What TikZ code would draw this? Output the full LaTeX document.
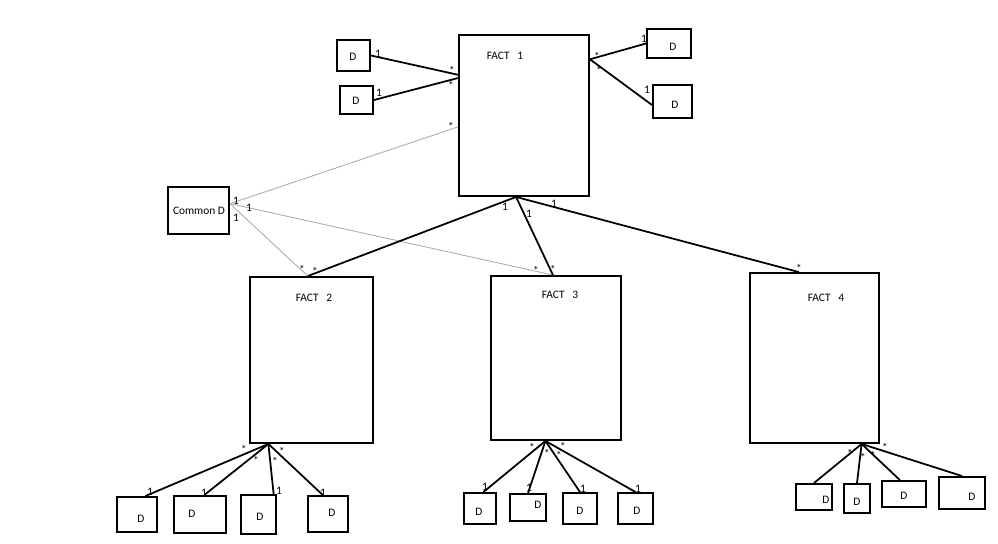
\documentclass[tikz,border=0pt]{standalone}
\usepackage{fontspec}
\setmainfont{Carlito}
\usetikzlibrary{calc}

\begin{document}
\begin{tikzpicture}[x=0.02cm, y=-0.02cm,
  box/.style={rectangle,draw,line width=1.1pt,inner sep=0pt},
  lbl/.style={font=\fontsize{6.5}{7}\selectfont,inner sep=0pt},
  mult/.style={font=\fontsize{6.5}{7}\selectfont,inner sep=0pt},
  link/.style={line width=1pt},
  glink/.style={draw=gray!65,line width=0.5pt}]

\useasboundingbox (0,0) rectangle (998,544);

% facts
\node[box,minimum width=2.6cm,minimum height=3.22cm] (f1) at (524,115.5) {};
\node[box,minimum width=2.46cm,minimum height=3.32cm] (f2) at (311.5,360) {};
\node[box,minimum width=2.6cm,minimum height=3.28cm] (f3) at (556,358) {};
\node[box,minimum width=2.58cm,minimum height=3.4cm] (f4) at (814.5,358) {};
\node[lbl] (f1t) at (505,56) {FACT\ \ \ 1};
\node[lbl] (f2t) at (314,298) {FACT\ \ \ 2};
\node[lbl] (f3t) at (560,295) {FACT\ \ \ 3};
\node[lbl] (f4t) at (826,298) {FACT\ \ \ 4};

% dimensions of FACT 1
\node[box,minimum width=0.66cm,minimum height=0.62cm] (dA) at (353.5,55.5) {};
\node[box,minimum width=0.66cm,minimum height=0.56cm] (dB) at (356.5,100) {};
\node[box,minimum width=0.88cm,minimum height=0.58cm] (dC) at (669,43.5) {};
\node[box,minimum width=0.78cm,minimum height=0.66cm] (dD) at (672.5,101.5) {};
\node[lbl] (dAt) at (353,57) {D};
\node[lbl] (dBt) at (356,101) {D};
\node[lbl] (dCt) at (673,47) {D};
\node[lbl] (dDt) at (675,105) {D};

% shared dimension
\node[box,minimum width=1.22cm,minimum height=0.94cm] (com) at (198.5,210.5) {};
\node[lbl] (comt) at (199,211) {Common D};

% dimensions of FACT 2
\node[box,minimum width=0.8cm,minimum height=0.7cm] (a1) at (137,514.5) {};
\node[box,minimum width=1.04cm,minimum height=0.74cm] (a2) at (200,514.5) {};
\node[box,minimum width=0.7cm,minimum height=0.78cm] (a3) at (258.5,514.5) {};
\node[box,minimum width=0.8cm,minimum height=0.72cm] (a4) at (328,514) {};
\node[lbl] (a1t) at (141,519) {D};
\node[lbl] (a2t) at (192,514) {D};
\node[lbl] (a3t) at (260,517) {D};
\node[lbl] (a4t) at (332,513) {D};

% dimensions of FACT 3
\node[box,minimum width=0.64cm,minimum height=0.62cm] (b1) at (480,508.5) {};
\node[box,minimum width=0.72cm,minimum height=0.54cm] (b2) at (528,507.5) {};
\node[box,minimum width=0.68cm,minimum height=0.62cm] (b3) at (580,508.5) {};
\node[box,minimum width=0.7cm,minimum height=0.62cm] (b4) at (635.5,508.5) {};
\node[lbl] (b1t) at (479,512) {D};
\node[lbl] (b2t) at (538,505) {D};
\node[lbl] (b3t) at (580,511) {D};
\node[lbl] (b4t) at (637,511) {D};

% dimensions of FACT 4
\node[box,minimum width=0.72cm,minimum height=0.52cm] (c1) at (814,497) {};
\node[box,minimum width=0.52cm,minimum height=0.58cm] (c2) at (857,498.5) {};
\node[box,minimum width=0.88cm,minimum height=0.52cm] (c3) at (904,494) {};
\node[box,minimum width=0.92cm,minimum height=0.64cm] (c4) at (962,493) {};
\node[lbl] (c1t) at (826,500) {D};
\node[lbl] (c2t) at (857,502) {D};
\node[lbl] (c3t) at (904,496) {D};
\node[lbl] (c4t) at (972,497) {D};

% attachment points
\coordinate (f1l1) at ($(f1.north west)!0.25!(f1.south west)$);
\coordinate (f1l2) at ($(f1.north west)!0.27!(f1.south west)$);
\coordinate (f1l3) at ($(f1.north west)!0.57!(f1.south west)$);
\coordinate (f1r) at ($(f1.north east)!0.155!(f1.south east)$);
\coordinate (f1b) at ($(f1.south west)!0.44!(f1.south east)$);
\coordinate (comr) at ($(com.north east)!0.36!(com.south east)$);
\coordinate (f2top) at ($(f2.north west)!0.47!(f2.north east)$);
\coordinate (f3top) at ($(f3.north west)!0.477!(f3.north east)$);
\coordinate (f4top) at ($(f4.north west)!0.38!(f4.north east)$);
\coordinate (f2b) at ($(f2.south west)!0.155!(f2.south east)$);
\coordinate (f3b) at ($(f3.south west)!0.42!(f3.south east)$);
\coordinate (f4b) at ($(f4.south west)!0.86!(f4.south east)$);

% links
\draw[link] (dA.east) -- (f1l1);
\draw[link] (dB.east) -- (f1l2);
\draw[link] (f1r) -- (dC.west);
\draw[link] (f1r) -- ($(dD.north west)!0.6!(dD.south west)$);
\draw[glink] (comr) -- (f1l3);
\draw[glink] (comr) -- (f2top);
\draw[glink] (comr) -- (f3top);
\draw[link] (f1b) -- (f2top);
\draw[link] (f1b) -- (f3top);
\draw[link] (f1b) -- (f4top);

\draw[link] (f2b) -- ($(a1.north west)!0.7!(a1.north east)$);
\draw[link] (f2b) -- ($(a2.north west)!0.58!(a2.north east)$);
\draw[link] (f2b) -- ($(a3.north west)!0.91!(a3.north east)$);
\draw[link] (f2b) -- ($(a4.north west)!0.375!(a4.north east)$);

\draw[link] (f3b) -- ($(b1.north west)!0.6!(b1.north east)$);
\draw[link] (f3b) -- (b2.north);
\draw[link] (f3b) -- (b3.north);
\draw[link] (f3b) -- (b4.north);

\draw[link] (f4b) -- (c1.north);
\draw[link] (f4b) -- (c2.north);
\draw[link] (f4b) -- ($(c3.north west)!0.41!(c3.north east)$);
\draw[link] (f4b) -- (c4.north);

% multiplicities
\node[mult] (o1) at (378,54) {1};
\node[mult] (o2) at (379,93) {1};
\node[mult] (o3) at (644,39) {1};
\node[mult] (o4) at (647,90) {1};
\node[mult] (o5) at (236,201) {1};
\node[mult] (o6) at (249,208) {1};
\node[mult] (o7) at (236,218) {1};
\node[mult] (o8) at (505,207) {1};
\node[mult] (o9) at (529,214) {1};
\node[mult] (o10) at (554,204) {1};
\node[mult] (o11) at (150,492) {1};
\node[mult] (o12) at (204,493) {1};
\node[mult] (o13) at (279,491) {1};
\node[mult] (o14) at (323,493) {1};
\node[mult] (o15) at (485,487) {1};
\node[mult] (o16) at (529,488) {1};
\node[mult] (o17) at (583,489) {1};
\node[mult] (o18) at (638,489) {1};

\node[mult] (s1) at (452,70) {*};
\node[mult] (s2) at (451,85) {*};
\node[mult] (s3) at (451,126) {*};
\node[mult] (s4) at (597,56) {*};
\node[mult] (s5) at (599,70) {*};
\node[mult] (s6) at (302,269) {*};
\node[mult] (s7) at (315,271) {*};
\node[mult] (s8) at (536,270) {*};
\node[mult] (s9) at (553,269) {*};
\node[mult] (s10) at (799,268) {*};
\node[mult] (s11) at (244,449) {*};
\node[mult] (s12) at (256,460) {*};
\node[mult] (s13) at (275,461) {*};
\node[mult] (s14) at (282,451) {*};
\node[mult] (s15) at (532,447) {*};
\node[mult] (s16) at (547,453) {*};
\node[mult] (s17) at (559,455) {*};
\node[mult] (s18) at (563,446) {*};
\node[mult] (s19) at (850,453) {*};
\node[mult] (s20) at (863,457) {*};
\node[mult] (s21) at (873,455) {*};
\node[mult] (s22) at (885,447) {*};

\end{tikzpicture}
\end{document}
